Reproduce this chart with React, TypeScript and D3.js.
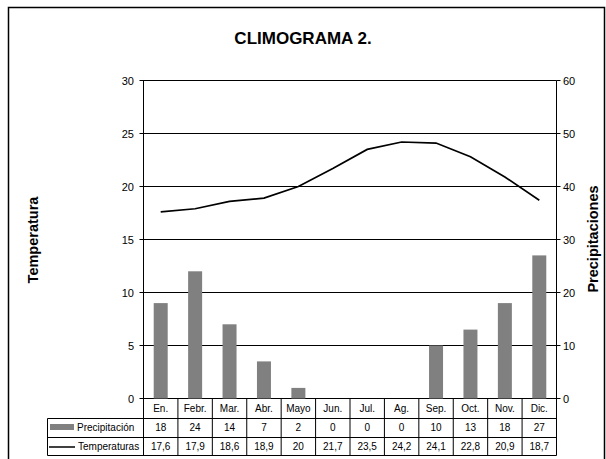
import React from "react";
import * as d3 from "d3";

const months = ["En.", "Febr.", "Mar.", "Abr.", "Mayo", "Jun.", "Jul.", "Ag.", "Sep.", "Oct.", "Nov.", "Dic."];
const precipitacion = [18, 24, 14, 7, 2, 0, 0, 0, 10, 13, 18, 27];
const temperaturas = [17.6, 17.9, 18.6, 18.9, 20, 21.7, 23.5, 24.2, 24.1, 22.8, 20.9, 18.7];
const tempTicks = [0, 5, 10, 15, 20, 25, 30];
const precTicks = [0, 10, 20, 30, 40, 50, 60];

const W = 606, H = 459;
const L = 143.5, R = 556.5, T = 80.5, B = 398.5;
const font = "'Liberation Sans', Arial, sans-serif";

export default function App() {
  const x = d3.scaleBand<string>().domain(months).range([L, R]).padding(0);
  const yT = d3.scaleLinear().domain([0, 30]).range([B, T]);
  const yP = d3.scaleLinear().domain([0, 60]).range([B, T]);
  const bw = 14;
  const line = d3.line<number>()
    .x((_, i) => (x(months[i]) as number) + x.bandwidth() / 2)
    .y((d) => yT(d));
  const fmt = (v: number) => String(v).replace(".", ",");
  const rowY = [398.5, 418.5, 437.5, 455.5];
  const hx = 47.5;
  return (
    <svg width={W} height={H} style={{ position: "absolute", left: 0, top: 0 }} fontFamily={font}>
      <rect x={0} y={0} width={W} height={H} fill="#fff" />
      <rect x={8.5} y={7.5} width={596} height={470} fill="none" stroke="#000" strokeWidth={1.5} />
      <text x={303} y={44} textAnchor="middle" fontSize={17} fontWeight="bold">CLIMOGRAMA 2.</text>
      {/* gridlines */}
      {tempTicks.map((t) => (
        <line key={"g" + t} x1={L - 4} x2={R} y1={yT(t)} y2={yT(t)} stroke="#000" strokeWidth={1} />
      ))}
      {precTicks.map((t) => (
        <line key={"rt" + t} x1={R} x2={R + 4} y1={yP(t)} y2={yP(t)} stroke="#000" />
      ))}
      <line x1={L} x2={L} y1={T} y2={rowY[3]} stroke="#000" />
      <line x1={R} x2={R} y1={T} y2={rowY[3]} stroke="#000" />
      {tempTicks.map((t) => (
        <text key={"lt" + t} x={134} y={yT(t) + 4} textAnchor="end" fontSize={11}>{t}</text>
      ))}
      {precTicks.map((t) => (
        <text key={"rl" + t} x={563} y={yP(t) + 4} textAnchor="start" fontSize={11}>{t}</text>
      ))}
      {/* bars */}
      {precipitacion.map((p, i) => {
        const cx = (x(months[i]) as number) + x.bandwidth() / 2;
        return p > 0 ? (
          <rect key={"b" + i} x={cx - bw / 2} y={yP(p)} width={bw} height={yP(0) - yP(p)} fill="#808080" />
        ) : null;
      })}
      <path d={line(temperaturas) || ""} fill="none" stroke="#000" strokeWidth={1.7} />
      {/* axis titles */}
      <text transform="translate(38,240) rotate(-90)" textAnchor="middle" fontSize={14.5} fontWeight="bold">Temperatura</text>
      <text transform="translate(598,239) rotate(-90)" textAnchor="middle" fontSize={14.5} fontWeight="bold">Precipitaciones</text>
      {/* table */}
      {[1, 2, 3].map((r) => (
        <line key={"h" + r} x1={hx} x2={R} y1={rowY[r]} y2={rowY[r]} stroke="#000" />
      ))}
      <line x1={hx} x2={hx} y1={rowY[1]} y2={rowY[3]} stroke="#000" />
      {months.map((m, i) => {
        const x0 = x(m) as number;
        const cx = x0 + x.bandwidth() / 2;
        return (
          <g key={"c" + i}>
            {i > 0 && <line x1={x0} x2={x0} y1={rowY[0]} y2={rowY[3]} stroke="#000" />}
            <text x={cx} y={412} textAnchor="middle" fontSize={10}>{m}</text>
            <text x={cx} y={431} textAnchor="middle" fontSize={10}>{precipitacion[i]}</text>
            <text x={cx} y={450} textAnchor="middle" fontSize={10}>{fmt(temperaturas[i])}</text>
          </g>
        );
      })}
      <rect x={50} y={424} width={24} height={6} fill="#808080" />
      <text x={77} y={431} fontSize={10}>Precipitación</text>
      <line x1={49} x2={75} y1={447} y2={447} stroke="#000" strokeWidth={1.5} />
      <text x={78} y={450} fontSize={10}>Temperaturas</text>
    </svg>
  );
}
